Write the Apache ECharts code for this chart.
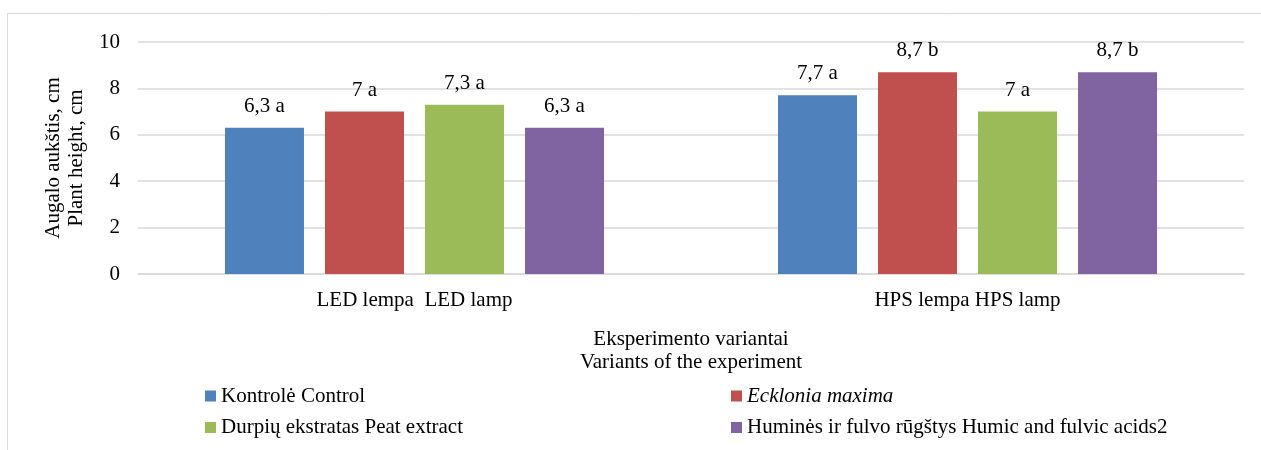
<!DOCTYPE html>
<html>
<head>
<meta charset="utf-8">
<script src="https://cdn.jsdelivr.net/npm/echarts@6/dist/echarts.min.js"></script>
<style>
html,body{margin:0;padding:0;background:#fff;}
#c{width:1261px;height:450px;}
</style>
</head>
<body>
<div id="c"></div>
<script>
const categories = ['LED lempa  LED lamp', 'HPS lempa HPS lamp'];
const seriesNames = ['Kontrolė Control', 'Ecklonia maxima', 'Durpių ekstratas Peat extract', 'Huminės ir fulvo rūgštys Humic and fulvic acids2'];
const kontrole = [6.3, 7.7];
const ecklonia = [7, 8.7];
const durpiu = [7.3, 7];
const humines = [6.3, 8.7];
const kontroleLetters = ['a', 'a'];
const eckloniaLetters = ['a', 'b'];
const durpiuLetters = ['a', 'a'];
const huminesLetters = ['a', 'b'];
const yTicks = [0, 2, 4, 6, 8, 10];
const colors = ['#4f81bd', '#c0504d', '#9bbb59', '#8064a2'];

const FONT = "'Liberation Serif', 'Times New Roman', serif";
const FS = 21;
const values = [kontrole, ecklonia, durpiu, humines];
const letters = [kontroleLetters, eckloniaLetters, durpiuLetters, huminesLetters];

const chart = echarts.init(document.getElementById('c'));
const legendPos = [[205, 385.5], [731, 385.5], [205, 417], [731, 417]];

chart.setOption({
  animation: false,
  textStyle: { fontFamily: FONT, color: '#000' },
  graphic: [{
    type: 'rect', silent: true,
    shape: { x: 7.5, y: 13.5, width: 1400, height: 600 },
    style: { fill: 'none', stroke: '#d9d9d9', lineWidth: 1 }
  }],
  legend: seriesNames.map((n, i) => ({
    data: [i === 1 ? { name: n, textStyle: { fontStyle: 'italic' } } : n],
    left: legendPos[i][0], top: legendPos[i][1],
    itemWidth: 11, itemHeight: 11, icon: 'rect', padding: 0,
    textStyle: { fontFamily: FONT, fontSize: FS, color: '#000' }
  })),
  grid: { left: 138, right: 17, top: 42, bottom: 176 },
  xAxis: {
    type: 'category', data: categories,
    axisTick: { show: false },
    axisLine: { lineStyle: { color: '#d9d9d9', width: 1.5 } },
    axisLabel: { margin: 16, fontSize: FS, color: '#000', fontFamily: FONT },
    name: 'Eksperimento variantai\nVariants of the experiment',
    nameLocation: 'middle', nameGap: 54,
    nameTextStyle: { fontSize: FS, lineHeight: 23, color: '#000', fontFamily: FONT }
  },
  yAxis: {
    type: 'value', min: yTicks[0], max: yTicks[yTicks.length - 1], interval: 2,
    axisLine: { show: false }, axisTick: { show: false },
    splitLine: { lineStyle: { color: '#d9d9d9', width: 1.5 } },
    axisLabel: { margin: 18, fontSize: FS, color: '#000', fontFamily: FONT },
    name: 'Augalo aukštis, cm\nPlant height, cm',
    nameLocation: 'middle', nameRotate: 90, nameGap: 43.5,
    nameTextStyle: { fontSize: FS, lineHeight: 23, color: '#000', fontFamily: FONT }
  },
  series: seriesNames.map((n, i) => ({
    name: n, type: 'bar', data: values[i],
    barWidth: 79, barGap: '26.6%',
    itemStyle: { color: colors[i] },
    label: {
      show: true, position: 'top', distance: 11,
      fontSize: FS, color: '#000', fontFamily: FONT,
      formatter: p => String(p.value).replace('.', ',') + ' ' + letters[i][p.dataIndex]
    }
  }))
});
</script>
</body>
</html>
